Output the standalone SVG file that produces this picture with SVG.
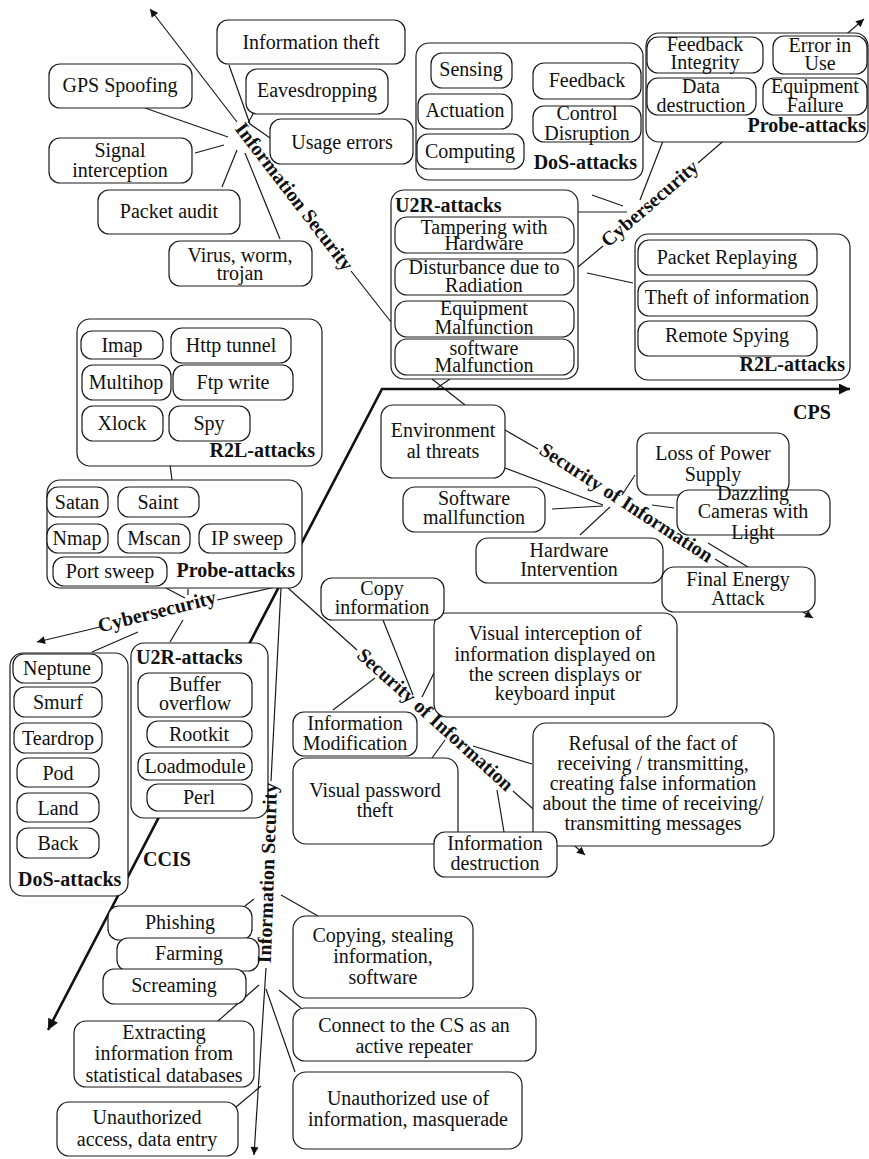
<svg xmlns="http://www.w3.org/2000/svg" width="869" height="1159" viewBox="0 0 869 1159">
<style>
.n{fill:#fff;stroke:#1a1a1a;stroke-width:1.2}
.c{fill:none;stroke:#1a1a1a;stroke-width:1.2}
.t{font-family:"Liberation Serif","Times New Roman",serif;font-size:20px;fill:#111;text-anchor:middle}
.b{font-family:"Liberation Serif","Times New Roman",serif;font-size:20px;font-weight:bold;fill:#111}
.ax{font-family:"Liberation Serif","Times New Roman",serif;font-size:20px;font-weight:bold;fill:#111;text-anchor:middle}
.r{text-anchor:end}
</style>
<defs>
<marker id="arr" viewBox="0 0 10 10" refX="10" refY="5" markerWidth="11" markerHeight="8" markerUnits="userSpaceOnUse" orient="auto-start-reverse"><path d="M0,0 L10,5 L0,10 z" fill="#111"/></marker>
<marker id="arrT" viewBox="0 0 10 10" refX="10" refY="5" markerWidth="15" markerHeight="11" markerUnits="userSpaceOnUse" orient="auto-start-reverse"><path d="M0,0 L10,5 L0,10 z" fill="#111"/></marker>
</defs>
<rect width="869" height="1159" fill="#fff"/>

<g id="connectors">
<!-- main thick CPS / CCIS axis -->
<path d="M48,1030 L382,389 L850,389" fill="none" stroke="#111" stroke-width="2.6" marker-start="url(#arrT)" marker-end="url(#arrT)"/>
<!-- top-left Information Security axis -->
<path class="c" d="M237,122 L150,9" marker-end="url(#arr)"/>
<path class="c" d="M351,271 L391,322"/>
<path class="c" d="M432,379 L465,405"/>
<path class="c" d="M450,379 L437,388"/>
<path class="c" d="M145,108 L228,137"/>
<path class="c" d="M195,153 L224,145"/>
<path class="c" d="M222,187 L237,150"/>
<path class="c" d="M280,239 L245,153"/>
<path class="c" d="M229,65 L250,124 L270,138"/>
<path class="c" d="M253,114 L248,123"/>
<!-- top-right Cybersecurity axis -->
<path class="c" d="M578,267 L603,246"/>
<path class="c" d="M698,163 L864,19" marker-end="url(#arr)"/>
<path class="c" d="M592,195 L623,206"/>
<path class="c" d="M578,212 L627,212"/>
<path class="c" d="M663,141 L640,200"/>
<path class="c" d="M587,273 L633,283"/>
<!-- right Security of Information axis -->
<path class="c" d="M505,430 L538,449"/>
<path class="c" d="M715,559 L813,618" marker-end="url(#arr)"/>
<path class="c" d="M505,468 L603,505"/>
<path class="c" d="M552,509 L603,506"/>
<path class="c" d="M580,535 L610,507"/>
<path class="c" d="M635,475 L622,495"/>
<path class="c" d="M652,505 L674,508"/>
<path class="c" d="M708,543 L748,567"/>
<!-- left R2L to Probe -->
<path class="c" d="M169,457 L172,480"/>
<!-- lower-left Cybersecurity axis -->
<path class="c" d="M280,586 L217,600"/>
<path class="c" d="M100,627 L37,642" marker-end="url(#arr)"/>
<path class="c" d="M166,588 L185,598"/>
<path class="c" d="M188,589 L188,595"/>
<path class="c" d="M138,632 L92,652"/>
<path class="c" d="M183,620 L170,642"/>
<!-- lower-middle Security of Information axis -->
<path class="c" d="M288,588 L357,650"/>
<path class="c" d="M513,791 L585,855" marker-end="url(#arr)"/>
<path class="c" d="M383,620 L413,695"/>
<path class="c" d="M434,673 L422,697"/>
<path class="c" d="M333,710 L375,678"/>
<path class="c" d="M432,758 L445,740"/>
<path class="c" d="M504,832 L497,790"/>
<path class="c" d="M473,746 L532,764"/>
<!-- lower Information Security axis -->
<path class="c" d="M281,588 L271,781"/>
<path class="c" d="M266,968 L254,1155" marker-end="url(#arr)"/>
<path class="c" d="M245,906 L254,899"/>
<path class="c" d="M281,895 L318,916"/>
<path class="c" d="M259,985 L218,1021"/>
<path class="c" d="M279,990 L301,1008"/>
<path class="c" d="M266,989 L295,1072"/>
<path class="c" d="M261,1086 L236,1107"/>
</g>

<!-- top-left cluster -->
<g id="info-theft"><rect class="n" x="217" y="20" width="188" height="44" rx="11"/><text class="t" x="311" y="49">Information theft</text></g>
<g id="gps-spoofing"><rect class="n" x="49" y="64" width="143" height="44" rx="11"/><text class="t" x="120" y="92">GPS Spoofing</text></g>
<g id="eavesdropping"><rect class="n" x="246" y="69" width="142" height="45" rx="11"/><text class="t" x="317" y="97">Eavesdropping</text></g>
<g id="usage-errors"><rect class="n" x="270" y="119" width="143" height="45" rx="11"/><text class="t" x="342" y="149">Usage errors</text></g>
<g id="signal-interception"><rect class="n" x="49" y="138" width="143" height="45" rx="11"/><text class="t" x="120" y="157">Signal</text><text class="t" x="120" y="177">interception</text></g>
<g id="packet-audit"><rect class="n" x="98" y="190" width="142" height="44" rx="11"/><text class="t" x="169" y="218">Packet audit</text></g>
<g id="virus"><rect class="n" x="169" y="241" width="143" height="45" rx="11"/><text class="t" x="240" y="262">Virus, worm,</text><text class="t" x="240" y="280">trojan</text></g>

<!-- top DoS box -->
<g id="dos-top"><rect class="n" x="416" y="43" width="227" height="137" rx="13"/><text class="b r" x="637" y="169">DoS-attacks</text></g>
<g id="sensing"><rect class="n" x="431" y="53" width="81" height="35" rx="11"/><text class="t" x="471" y="76">Sensing</text></g>
<g id="actuation"><rect class="n" x="418" y="94" width="94" height="35" rx="11"/><text class="t" x="465" y="117">Actuation</text></g>
<g id="computing"><rect class="n" x="417" y="134" width="107" height="35" rx="11"/><text class="t" x="470" y="158">Computing</text></g>
<g id="feedback"><rect class="n" x="533" y="63" width="108" height="36" rx="11"/><text class="t" x="587" y="87">Feedback</text></g>
<g id="control-disruption"><rect class="n" x="533" y="106" width="108" height="36" rx="11"/><text class="t" x="587" y="120">Control</text><text class="t" x="587" y="140">Disruption</text></g>

<!-- top-right Probe box -->
<g id="probe-top"><rect class="n" x="646" y="33" width="222" height="109" rx="13"/><text class="b r" x="866" y="132">Probe-attacks</text></g>
<g id="feedback-integrity"><rect class="n" x="647" y="37" width="116" height="36" rx="11"/><text class="t" x="705" y="51">Feedback</text><text class="t" x="705" y="69">Integrity</text></g>
<g id="error-in-use"><rect class="n" x="773" y="36" width="94" height="38" rx="11"/><text class="t" x="820" y="52">Error in</text><text class="t" x="820" y="70">Use</text></g>
<g id="data-destruction"><rect class="n" x="647" y="78" width="109" height="37" rx="11"/><text class="t" x="701" y="93">Data</text><text class="t" x="701" y="112">destruction</text></g>
<g id="equipment-failure"><rect class="n" x="763" y="78" width="104" height="37" rx="11"/><text class="t" x="815" y="93">Equipment</text><text class="t" x="815" y="112">Failure</text></g>

<!-- top U2R box -->
<g id="u2r-top"><rect class="n" x="391" y="190" width="187" height="189" rx="13"/><text class="b" x="395" y="212">U2R-attacks</text></g>
<g id="tampering"><rect class="n" x="395" y="217" width="179" height="36" rx="12"/><text class="t" x="484" y="234">Tampering with</text><text class="t" x="484" y="250">Hardware</text></g>
<g id="disturbance"><rect class="n" x="395" y="259" width="179" height="36" rx="12"/><text class="t" x="484" y="274">Disturbance due to</text><text class="t" x="484" y="292">Radiation</text></g>
<g id="equipment-malfunction"><rect class="n" x="395" y="301" width="179" height="36" rx="12"/><text class="t" x="484" y="315">Equipment</text><text class="t" x="484" y="334">Malfunction</text></g>
<g id="software-malfunction"><rect class="n" x="395" y="339" width="179" height="36" rx="12"/><text class="t" x="484" y="355">software</text><text class="t" x="484" y="372">Malfunction</text></g>

<!-- right R2L box -->
<g id="r2l-right"><rect class="n" x="635" y="234" width="215" height="146" rx="13"/><text class="b r" x="845" y="371">R2L-attacks</text></g>
<g id="packet-replaying"><rect class="n" x="638" y="240" width="179" height="35" rx="11"/><text class="t" x="727" y="264">Packet Replaying</text></g>
<g id="theft-of-information"><rect class="n" x="638" y="281" width="179" height="35" rx="11"/><text class="t" x="727" y="304">Theft of information</text></g>
<g id="remote-spying"><rect class="n" x="638" y="321" width="179" height="35" rx="11"/><text class="t" x="727" y="342">Remote Spying</text></g>

<!-- right lower cluster -->
<g id="environmental"><rect class="n" x="381" y="405" width="124" height="73" rx="12"/><text class="t" x="443" y="437">Environment</text><text class="t" x="443" y="458">al threats</text></g>
<g id="software-mallfunction"><rect class="n" x="403" y="487" width="142" height="45" rx="12"/><text class="t" x="474" y="505">Software</text><text class="t" x="474" y="524">mallfunction</text></g>
<g id="hardware-intervention"><rect class="n" x="476" y="538" width="187" height="45" rx="12"/><text class="t" x="569" y="557">Hardware</text><text class="t" x="569" y="576">Intervention</text></g>
<g id="loss-of-power"><rect class="n" x="637" y="433" width="152" height="62" rx="12"/><text class="t" x="713" y="460">Loss of Power</text><text class="t" x="713" y="481">Supply</text></g>
<g id="dazzling"><rect class="n" x="677" y="490" width="153" height="45" rx="12"/><text class="t" x="753" y="500">Dazzling</text><text class="t" x="753" y="518">Cameras with</text><text class="t" x="753" y="539">Light</text></g>
<g id="final-energy"><rect class="n" x="662" y="567" width="153" height="45" rx="12"/><text class="t" x="738" y="586">Final Energy</text><text class="t" x="738" y="605">Attack</text></g>

<!-- left R2L box -->
<g id="r2l-left"><rect class="n" x="77" y="319" width="245" height="147" rx="13"/><text class="b r" x="315" y="457">R2L-attacks</text></g>
<g id="imap"><rect class="n" x="81" y="331" width="82" height="28" rx="11"/><text class="t" x="122" y="352">Imap</text></g>
<g id="http-tunnel"><rect class="n" x="171" y="328" width="120" height="35" rx="11"/><text class="t" x="231" y="352">Http tunnel</text></g>
<g id="multihop"><rect class="n" x="82" y="365" width="89" height="35" rx="11"/><text class="t" x="126" y="389">Multihop</text></g>
<g id="ftp-write"><rect class="n" x="173" y="365" width="120" height="35" rx="11"/><text class="t" x="233" y="389">Ftp write</text></g>
<g id="xlock"><rect class="n" x="82" y="406" width="81" height="35" rx="11"/><text class="t" x="122" y="430">Xlock</text></g>
<g id="spy"><rect class="n" x="169" y="406" width="81" height="35" rx="11"/><text class="t" x="209" y="430">Spy</text></g>

<!-- left Probe box -->
<g id="probe-left"><rect class="n" x="47" y="480" width="255" height="108" rx="13"/><text class="b r" x="295" y="577">Probe-attacks</text></g>
<g id="satan"><rect class="n" x="47" y="487" width="61" height="30" rx="11"/><text class="t" x="77" y="509">Satan</text></g>
<g id="saint"><rect class="n" x="118" y="487" width="81" height="30" rx="11"/><text class="t" x="158" y="509">Saint</text></g>
<g id="nmap"><rect class="n" x="47" y="524" width="61" height="29" rx="11"/><text class="t" x="77" y="545">Nmap</text></g>
<g id="mscan"><rect class="n" x="118" y="524" width="72" height="29" rx="11"/><text class="t" x="154" y="545">Mscan</text></g>
<g id="ip-sweep"><rect class="n" x="199" y="524" width="96" height="29" rx="11"/><text class="t" x="247" y="545">IP sweep</text></g>
<g id="port-sweep"><rect class="n" x="53" y="557" width="114" height="29" rx="11"/><text class="t" x="110" y="578">Port sweep</text></g>

<!-- left DoS box -->
<g id="dos-left"><rect class="n" x="10" y="653" width="118" height="243" rx="13"/><text class="b" x="18" y="886">DoS-attacks</text></g>
<g id="neptune"><rect class="n" x="13" y="654" width="89" height="29" rx="11"/><text class="t" x="57" y="675">Neptune</text></g>
<g id="smurf"><rect class="n" x="14" y="687" width="88" height="30" rx="11"/><text class="t" x="58" y="709">Smurf</text></g>
<g id="teardrop"><rect class="n" x="14" y="723" width="88" height="30" rx="11"/><text class="t" x="58" y="745">Teardrop</text></g>
<g id="pod"><rect class="n" x="17" y="758" width="82" height="29" rx="11"/><text class="t" x="58" y="780">Pod</text></g>
<g id="land"><rect class="n" x="17" y="793" width="82" height="29" rx="11"/><text class="t" x="58" y="815">Land</text></g>
<g id="back"><rect class="n" x="17" y="828" width="82" height="30" rx="11"/><text class="t" x="58" y="850">Back</text></g>

<!-- left U2R box -->
<g id="u2r-left"><rect class="n" x="131" y="643" width="137" height="175" rx="13"/><text class="b" x="136" y="664">U2R-attacks</text></g>
<g id="buffer-overflow"><rect class="n" x="138" y="673" width="114" height="44" rx="11"/><text class="t" x="195" y="691">Buffer</text><text class="t" x="195" y="710">overflow</text></g>
<g id="rootkit"><rect class="n" x="147" y="721" width="105" height="26" rx="11"/><text class="t" x="199" y="741">Rootkit</text></g>
<g id="loadmodule"><rect class="n" x="138" y="753" width="114" height="27" rx="11"/><text class="t" x="195" y="773">Loadmodule</text></g>
<g id="perl"><rect class="n" x="147" y="784" width="105" height="27" rx="11"/><text class="t" x="199" y="804">Perl</text></g>

<!-- lower middle cluster -->
<g id="visual-interception"><rect class="n" x="434" y="613" width="243" height="104" rx="13"/><text class="t" x="555" y="640">Visual interception of</text><text class="t" x="555" y="661">information displayed on</text><text class="t" x="555" y="681">the screen displays or</text><text class="t" x="555" y="700">keyboard input</text></g>
<g id="copy-information"><rect class="n" x="321" y="578" width="123" height="42" rx="11"/><text class="t" x="382" y="595">Copy</text><text class="t" x="382" y="614">information</text></g>
<g id="information-modification"><rect class="n" x="293" y="712" width="124" height="44" rx="11"/><text class="t" x="355" y="730">Information</text><text class="t" x="355" y="750">Modification</text></g>
<g id="visual-password"><rect class="n" x="293" y="758" width="165" height="86" rx="13"/><text class="t" x="375" y="797">Visual password</text><text class="t" x="375" y="817">theft</text></g>
<g id="refusal"><rect class="n" x="533" y="723" width="241" height="123" rx="13"/><text class="t" x="653" y="750">Refusal of the fact of</text><text class="t" x="653" y="770">receiving / transmitting,</text><text class="t" x="653" y="790">creating false information</text><text class="t" x="653" y="810">about the time of receiving/</text><text class="t" x="653" y="830">transmitting messages</text></g>
<g id="information-destruction"><rect class="n" x="434" y="832" width="123" height="45" rx="11"/><text class="t" x="495" y="850">Information</text><text class="t" x="495" y="870">destruction</text></g>

<!-- bottom cluster -->
<g id="phishing"><rect class="n" x="108" y="906" width="144" height="34" rx="11"/><text class="t" x="180" y="929">Phishing</text></g>
<g id="farming"><rect class="n" x="117" y="938" width="142" height="33" rx="11"/><text class="t" x="189" y="960">Farming</text></g>
<g id="screaming"><rect class="n" x="103" y="969" width="143" height="35" rx="11"/><text class="t" x="174" y="992">Screaming</text></g>
<g id="extracting"><rect class="n" x="74" y="1021" width="180" height="66" rx="12"/><text class="t" x="164" y="1039">Extracting</text><text class="t" x="164" y="1060">information from</text><text class="t" x="164" y="1082">statistical databases</text></g>
<g id="unauthorized-access"><rect class="n" x="57" y="1102" width="181" height="54" rx="12"/><text class="t" x="147" y="1124">Unauthorized</text><text class="t" x="147" y="1146">access, data entry</text></g>
<g id="copying"><rect class="n" x="293" y="916" width="180" height="82" rx="13"/><text class="t" x="383" y="942">Copying, stealing</text><text class="t" x="383" y="963">information,</text><text class="t" x="383" y="984">software</text></g>
<g id="connect"><rect class="n" x="293" y="1008" width="243" height="53" rx="12"/><text class="t" x="414" y="1032">Connect to the CS as an</text><text class="t" x="414" y="1053">active repeater</text></g>
<g id="unauthorized-use"><rect class="n" x="293" y="1072" width="229" height="77" rx="13"/><text class="t" x="408" y="1105">Unauthorized use of</text><text class="t" x="408" y="1126">information, masquerade</text></g>

<!-- axis labels -->
<g id="axis-labels">
<text class="b" x="793" y="419">CPS</text>
<text class="b" x="143" y="866">CCIS</text>
<text class="ax" transform="translate(294,197) rotate(52.5)" x="0" y="6">Information Security</text>
<text class="ax" transform="translate(650,204) rotate(-40.8)" x="0" y="6">Cybersecurity</text>
<text class="ax" transform="translate(626,503) rotate(33)" x="0" y="6">Security of Information</text>
<text class="ax" transform="translate(435,720) rotate(42)" x="0" y="6">Security of Information</text>
<text class="ax" transform="translate(157,612) rotate(-14)" x="0" y="6">Cybersecurity</text>
<text class="ax" transform="translate(268,873) rotate(-88)" x="0" y="6">Information Security</text>
</g>
</svg>
